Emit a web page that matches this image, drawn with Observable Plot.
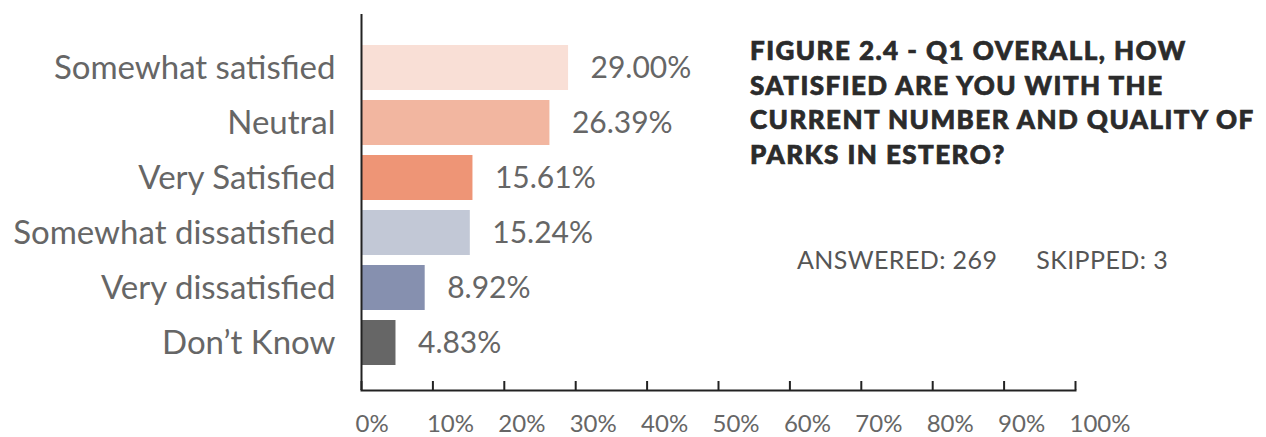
<!DOCTYPE html>
<html>
<head>
<meta charset="utf-8">
<script src="https://cdn.jsdelivr.net/npm/d3@7"></script>
<script src="https://cdn.jsdelivr.net/npm/@observablehq/plot@0.6"></script>
<style>
  html, body { margin: 0; padding: 0; background: #fff; }
  #wrap { position: relative; width: 1266px; height: 437px; overflow: hidden; }
  #title {
    position: absolute; left: 750px; top: 33px;
    font-family: Lato, "Open Sans", sans-serif; font-weight: 900;
    font-size: 26px; line-height: 34.5px; color: #2b2b2b; letter-spacing: 1.45px;
    -webkit-text-stroke: 0.7px #2b2b2b; white-space: nowrap;
  }
  #counts {
    position: absolute; left: 797px; top: 244px;
    font-family: Lato, "Open Sans", sans-serif; font-weight: 400;
    font-size: 25px; line-height: 30px; color: #555; white-space: nowrap; letter-spacing: 0.4px;
  }
  #counts span + span { margin-left: 39px; }
  svg text { font-family: Lato, "Open Sans", sans-serif; }
</style>
</head>
<body>
<div id="wrap">
  <div id="chart"></div>
  <div id="title">FIGURE 2.4 - Q1 OVERALL, HOW<br>SATISFIED ARE YOU WITH THE<br>CURRENT NUMBER AND QUALITY OF<br>PARKS IN ESTERO?</div>
  <div id="counts"><span>ANSWERED: 269</span><span>SKIPPED: 3</span></div>
</div>
<script>
const categories = ["Somewhat satisfied", "Neutral", "Very Satisfied", "Somewhat dissatisfied", "Very dissatisfied", "Don’t Know"];
const values = [29.00, 26.39, 15.61, 15.24, 8.92, 4.83];
const colors = ["#F9DFD6", "#F2B6A0", "#EE9576", "#C2C8D6", "#8690AF", "#666666"];
const xTicks = [0, 10, 20, 30, 40, 50, 60, 70, 80, 90, 100];

const data = categories.map((c, i) => ({category: c, value: values[i]}));

const W = 1266, H = 437, mT = 14, mB = 47, mL = 361, mR = 191;
const plotH = H - mT - mB;

const chart = Plot.plot({
  width: W, height: H,
  marginTop: mT, marginBottom: mB, marginLeft: mL, marginRight: mR,
  style: {background: "#fff", overflow: "visible"},
  x: {domain: [0, 100]},
  y: {domain: categories, paddingInner: 0.19, paddingOuter: 0.49, align: 0.55},
  color: {domain: categories, range: colors},
  marks: [
    Plot.barX(data, {x: "value", y: "category", fill: "category"}),
    Plot.text(data, {x: "value", y: "category", text: d => d.value.toFixed(2) + "%",
      textAnchor: "start", dx: 22, fontSize: 30, fill: "#666"}),
    Plot.axisY({tickSize: 0, tickPadding: 26, fontSize: 33, fill: "#666", label: null}),
    Plot.axisX({ticks: xTicks, tickFormat: d => d + "%", tickSize: 0, tickPadding: 24,
      fontSize: 24, fill: "#666", textAnchor: "start", dx: -6, label: null}),
    Plot.tickX(xTicks, {x: d => d, stroke: "#222", strokeWidth: 2, insetTop: plotH - 9}),
    Plot.ruleX([0], {stroke: "#222", strokeWidth: 2}),
    Plot.frame({anchor: "bottom", stroke: "#222", strokeWidth: 2})
  ]
});
document.getElementById("chart").appendChild(chart);
</script>
</body>
</html>
